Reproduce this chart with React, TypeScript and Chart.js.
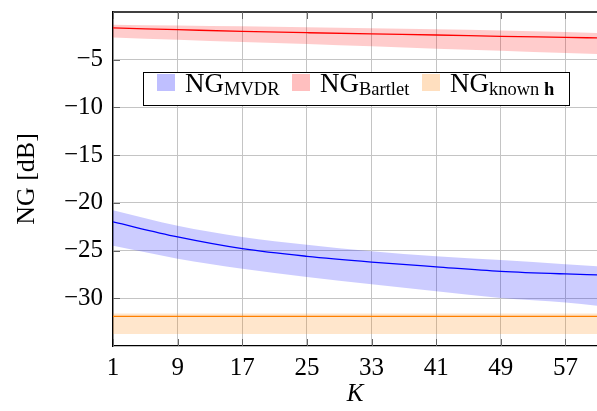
import React, { useEffect, useRef } from "react";
import { Chart, registerables } from "chart.js";

Chart.register(...registerables);

// Data
const K = [1, 9, 17, 25, 33, 41, 49, 57, 61];
const mvdrMean = [-22.0, -23.57, -24.8, -25.6, -26.2, -26.7, -27.17, -27.45, -27.55];
const mvdrUpper = [-20.77, -22.4, -23.57, -24.4, -25.07, -25.6, -26.0, -26.43, -26.64];
const mvdrLower = [-24.5, -25.85, -26.9, -27.77, -28.53, -29.27, -29.97, -30.45, -30.8];
const bartMean = [-1.67, -1.85, -2.03, -2.17, -2.3, -2.41, -2.55, -2.66, -2.72];
const bartUpper = [-1.33, -1.42, -1.5, -1.6, -1.7, -1.82, -1.95, -2.1, -2.2];
const bartLower = [-2.66, -2.9, -3.14, -3.35, -3.6, -3.85, -4.05, -4.3, -4.4];
const knownMean = [-31.9, -31.9, -31.9, -31.9, -31.9, -31.9, -31.9, -31.9, -31.9];
const knownUpper = [-31.6, -31.6, -31.6, -31.6, -31.6, -31.6, -31.6, -31.6, -31.6];
const knownLower = [-33.75, -33.75, -33.75, -33.75, -33.75, -33.75, -33.75, -33.75, -33.75];

const xTicks = [1, 9, 17, 25, 33, 41, 49, 57];
const yTicks = [-30, -25, -20, -15, -10, -5];

const FONT = "'Liberation Serif', 'Times New Roman', serif";

const pts = (ys: number[]) => K.map((k, i) => ({ x: k, y: ys[i] }));

function band(upper: number[], lower: number[], color: string) {
  return [
    {
      data: pts(upper),
      borderWidth: 0,
      pointRadius: 0,
      backgroundColor: color,
      fill: "+1",
      cubicInterpolationMode: "monotone",
    },
    {
      data: pts(lower),
      borderWidth: 0,
      pointRadius: 0,
      backgroundColor: color,
      fill: false,
      cubicInterpolationMode: "monotone",
    },
  ];
}

function line(ys: number[], color: string) {
  return {
    data: pts(ys),
    borderColor: color,
    borderWidth: 1.3,
    pointRadius: 0,
    fill: false,
    cubicInterpolationMode: "monotone",
  };
}

const framePlugin = {
  id: "frame",
  afterDatasetsDraw(chart: any) {
    const { ctx, chartArea } = chart;
    const { left, right, top, bottom } = chartArea;
    ctx.save();
    ctx.strokeStyle = "#000";
    ctx.lineWidth = 1.3;
    ctx.beginPath();
    ctx.moveTo(left, top);
    ctx.lineTo(right + 2, top);
    ctx.stroke();
    // inner tick marks
    ctx.strokeStyle = "#666";
    ctx.lineWidth = 1;
    const xs = chart.scales.x;
    const ys = chart.scales.y;
    const len = 7;
    ctx.beginPath();
    xTicks.forEach((v) => {
      const px = Math.round(xs.getPixelForValue(v)) + 0.5;
      ctx.moveTo(px, bottom);
      ctx.lineTo(px, bottom - len);
      ctx.moveTo(px, top);
      ctx.lineTo(px, top + len);
    });
    yTicks.forEach((v) => {
      const py = Math.round(ys.getPixelForValue(v)) + 0.5;
      ctx.moveTo(left, py);
      ctx.lineTo(left + len, py);
    });
    ctx.stroke();
    ctx.restore();
  },
};

function Legend() {
  const sq = (left: number, color: string) => (
    <div
      style={{
        position: "absolute",
        left,
        top: 74,
        width: 17.5,
        height: 17,
        background: color,
      }}
    />
  );
  const txt = (left: number, sub: React.ReactNode) => (
    <div
      style={{
        position: "absolute",
        left,
        top: 70,
        height: 26,
        lineHeight: "26px",
        fontSize: 27,
        fontFamily: FONT,
        whiteSpace: "nowrap",
        color: "#000",
      }}
    >
      NG
      <span style={{ fontSize: 18.5, position: "relative", top: 3 }}>{sub}</span>
    </div>
  );
  return (
    <>
      <div
        style={{
          position: "absolute",
          left: 143,
          top: 72,
          width: 427,
          height: 34,
          border: "1.3px solid #000",
          background: "#fff",
          boxSizing: "border-box",
        }}
      />
      {sq(157, "rgba(0,0,255,0.25)")}
      {txt(185, "MVDR")}
      {sq(292, "rgba(255,0,0,0.25)")}
      {txt(320, "Bartlet")}
      {sq(422, "rgba(255,128,0,0.25)")}
      {txt(450, <>known <b>h</b></>)}
    </>
  );
}

export default function App() {
  const ref = useRef<HTMLCanvasElement>(null);
  useEffect(() => {
    if (!ref.current) return;
    const chart = new Chart(ref.current, {
      type: "line",
      data: {
        datasets: [
          line(mvdrMean, "#0000ff"),
          line(bartMean, "#ff0000"),
          line(knownMean, "#ff8000"),
          ...band(mvdrUpper, mvdrLower, "rgba(0,0,255,0.2)"),
          ...band(bartUpper, bartLower, "rgba(255,0,0,0.2)"),
          ...band(knownUpper, knownLower, "rgba(255,128,0,0.2)"),
        ] as any,
      },
      options: {
        animation: false,
        responsive: false,
        devicePixelRatio: 1,
        layout: { padding: { top: 12, right: 0, left: 0, bottom: 0 } },
        plugins: {
          legend: { display: false },
          tooltip: { enabled: false },
        },
        scales: {
          x: {
            type: "linear",
            min: 1,
            max: 60.9,
            afterBuildTicks: (s: any) => {
              s.ticks = xTicks.map((v) => ({ value: v }));
            },
            afterFit: (s: any) => {
              s.height = 65;
              s.paddingLeft = 0;
              s.paddingRight = 0;
            },
            grid: { color: "#c4c4c4", lineWidth: 1, drawTicks: false },
            border: { color: "#000", width: 1.3 },
            ticks: {
              color: "#000",
              font: { family: FONT, size: 25 },
              padding: 7,
              maxRotation: 0,
              autoSkip: false,
            },
            title: {
              display: true,
              text: "K",
              color: "#000",
              font: { family: FONT, size: 25, style: "italic" },
              padding: { top: 0, bottom: 2 },
            },
          },
          y: {
            type: "linear",
            min: -35,
            max: 0,
            afterBuildTicks: (s: any) => {
              s.ticks = yTicks.map((v) => ({ value: v }));
            },
            afterFit: (s: any) => {
              s.width = 113;
              s.paddingTop = 0;
              s.paddingBottom = 0;
            },
            grid: { color: "#c4c4c4", lineWidth: 1, drawTicks: false },
            border: { color: "#000", width: 1.3 },
            ticks: {
              color: "#000",
              font: { family: FONT, size: 25 },
              padding: 10,
              callback: (v: any) => String(v).replace("-", "\u2212"),
            },
            title: {
              display: true,
              text: "NG [dB]",
              color: "#000",
              font: { family: FONT, size: 26 },
              padding: { top: 12, bottom: 0 },
            },
          },
        },
      },
      plugins: [framePlugin],
    } as any);
    return () => chart.destroy();
  }, []);
  return (
    <div
      style={{
        position: "fixed",
        left: 0,
        top: 0,
        width: 597,
        height: 411,
        background: "#fff",
        overflow: "hidden",
      }}
    >
      <canvas ref={ref} width={597} height={411} style={{ display: "block" }} />
      <Legend />
    </div>
  );
}
